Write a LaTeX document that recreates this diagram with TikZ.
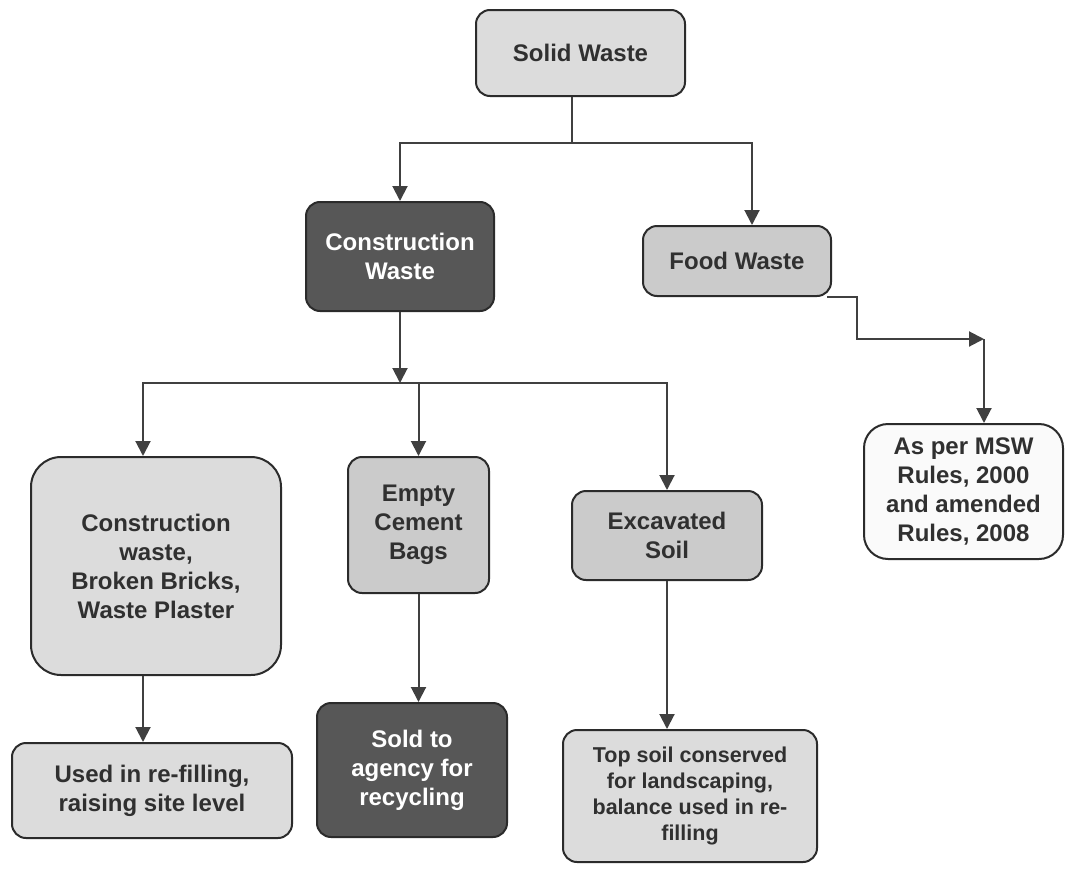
\documentclass[tikz,border=0pt]{standalone}
\usepackage{fontspec}
\setmainfont{Liberation Sans}
\usetikzlibrary{positioning,calc,arrows.meta}
\definecolor{boxline}{HTML}{2B2B2B}
\definecolor{linkgray}{HTML}{404040}
\definecolor{textgray}{HTML}{303030}
\definecolor{fillLight}{HTML}{DCDCDC}
\definecolor{fillMid}{HTML}{CBCBCB}
\definecolor{fillDark}{HTML}{575757}
\definecolor{fillWhite}{HTML}{FAFAFA}
\tikzset{
  wbox/.style={draw=boxline, line width=2pt, rounded corners=14pt, align=center,
    inner sep=0pt, text=textgray, font=\fontsize{24}{29}\selectfont\bfseries},
  lightbox/.style={wbox, fill=fillLight},
  midbox/.style={wbox, fill=fillMid},
  darkbox/.style={wbox, fill=fillDark, text=white},
  whitebox/.style={wbox, fill=fillWhite, rounded corners=24pt},
  arr/.style={draw=linkgray, line width=2pt, -{Triangle[length=15pt,width=15pt]}}
}

\begin{document}
\begin{tikzpicture}[x=1pt,y=-1pt]
\useasboundingbox (0,0) rectangle (1068,870);
% top and second level
\node [lightbox,minimum width=209pt,minimum height=86pt] (solid) at (580.5,53) {Solid Waste};
\node [darkbox,minimum width=188pt,minimum height=109pt] (constr) at (400,256.5) {Construction\\Waste};
\node [midbox,minimum width=188pt,minimum height=70pt] (food) at (737,261) {Food Waste};
% third level
\node [lightbox,rounded corners=30pt,minimum width=250pt,minimum height=218pt] (mixed) at (156,566) {Construction\\waste,\\Broken Bricks,\\Waste Plaster};
\node [midbox,minimum width=141pt,minimum height=136pt] (bags) at (418.5,525) {Empty\\Cement\\Bags};
\node [midbox,minimum width=190pt,minimum height=89pt] (soil) at (667,535.5) {Excavated\\Soil};
\node [whitebox,minimum width=199pt,minimum height=135pt] (msw) at (963.5,491.5) {As per MSW\\Rules, 2000\\and amended\\Rules, 2008};
% bottom level
\node [lightbox,minimum width=280pt,minimum height=95pt] (refill) at (152,790.5) {Used in re-filling,\\raising site level};
\node [darkbox,minimum width=190pt,minimum height=134pt] (sold) at (412,770) {Sold to\\agency for\\recycling};
\node [lightbox,minimum width=254pt,minimum height=132pt,font=\fontsize{21.5}{26}\selectfont\bfseries] (topsoil) at (690,796) {Top soil conserved\\for landscaping,\\balance used in re-\\filling};
\coordinate (split1) at (572,143);
\coordinate (split2) at (400,383);
\coordinate (bend) at (984,339);
\draw [draw=linkgray,line width=2pt] (solid.south -| split1) -- (split1);
\draw [arr] (split1) -| (constr.north);
\draw [arr] (split1) -| ([xshift=15pt]food.north);
\draw [arr] (constr.south) -- (split2);
\draw [arr] (split2) -| ([xshift=-13pt]mixed.north);
\draw [arr] (split2 -| bags.north) -- (bags.north);
\draw [arr] (split2) -| (soil.north);
\draw [arr] ([xshift=-13pt]mixed.south) -- ([xshift=-13pt]mixed.south |- refill.north);
\draw [arr] (bags.south) -- (bags.south |- sold.north);
\draw [arr] (soil.south) -- (soil.south |- topsoil.north);
%\draw [arr] (food.east) -| (msw.north);
\draw [arr] ([xshift=-5pt]food.south east) -- ++(30,0) |- (bend);
\draw [arr] (bend) -- (bend |- msw.north);
\end{tikzpicture}
\end{document}
